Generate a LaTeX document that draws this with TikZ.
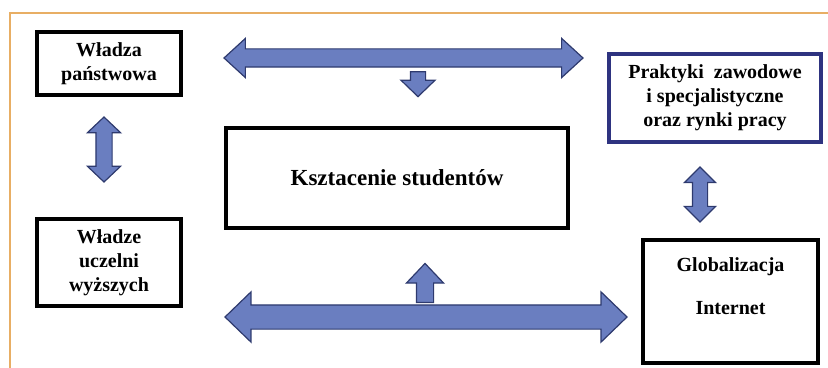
\documentclass[tikz,border=0pt]{standalone}
\usepackage{fontspec}
\setmainfont{Liberation Serif}
\usepackage{tikz}
\usetikzlibrary{positioning,shapes.arrows}
\usepackage{xcolor}
\definecolor{frameorange}{HTML}{E8AE64}
\definecolor{arrowfill}{HTML}{6A7EC0}
\definecolor{arrowline}{HTML}{2E3A6E}
\definecolor{navy}{HTML}{2E3380}

\begin{document}
\begin{tikzpicture}[x=0.5pt, y=-0.5pt, font=\bfseries,
    box/.style={draw, line width=2pt, align=center, inner sep=2pt},
    dblarr/.style={double arrow, draw=arrowline, fill=arrowfill, line width=0.6pt, inner xsep=0pt},
    onearr/.style={single arrow, draw=arrowline, fill=arrowfill, line width=0.6pt, inner xsep=0pt}]
    \useasboundingbox (0,0) rectangle (828,368);
    \draw[frameorange, line width=1.3pt] (10,368) -- (10,13) -- (828,13);

    \node[box, minimum width=72pt, minimum height=31.5pt] (wp) at (109,63.5) {Władza\\ państwowa};
    \node[box, minimum width=72pt, minimum height=43.5pt] (wu) at (109,262.5) {Władze\\ uczelni\\ wyższych};
    \node[box, font=\bfseries\fontsize{11.5}{14}\selectfont, minimum width=171pt, minimum height=50pt] (ks) at (397,178) {Ksztacenie studentów};
    \node[box, draw=navy, line width=1.6pt, minimum width=106pt, minimum height=44pt] (pz) at (715,98) {Praktyki\ \ zawodowe\\ i specjalistyczne\\ oraz rynki pracy};
    \node[box, minimum width=87.5pt, minimum height=61.5pt] (gi) at (730.5,301.5) {Globalizacja\\[9.5pt] Internet\\[3.5pt] \mbox{}};

    % arrows
    \node[onearr, rotate=-90, minimum height=12.5pt, inner ysep=3.5pt, single arrow head extend=4.75pt, single arrow tip angle=92] (down) at (418,80.5) {};
    \node[dblarr, minimum height=179.5pt, inner ysep=4.25pt, double arrow head extend=5.25pt, double arrow tip angle=85] (top) at (403.5,58) {};
    \node[dblarr, rotate=90, minimum height=32.5pt, inner ysep=3.75pt, double arrow head extend=4.25pt, double arrow tip angle=93] (left) at (104,149.5) {};
    \node[dblarr, rotate=90, minimum height=27.5pt, inner ysep=3.5pt, double arrow head extend=4pt, double arrow tip angle=90] (right) at (700,194.5) {};
    \node[onearr, rotate=90, minimum height=19.5pt, inner ysep=4pt, single arrow head extend=5pt, single arrow tip angle=87] (up) at (425,287.5) {};
    \node[dblarr, minimum height=201pt, inner ysep=5.75pt, double arrow head extend=6.5pt, double arrow tip angle=88] (bottom) at (426,317) {};
\end{tikzpicture}
\end{document}
